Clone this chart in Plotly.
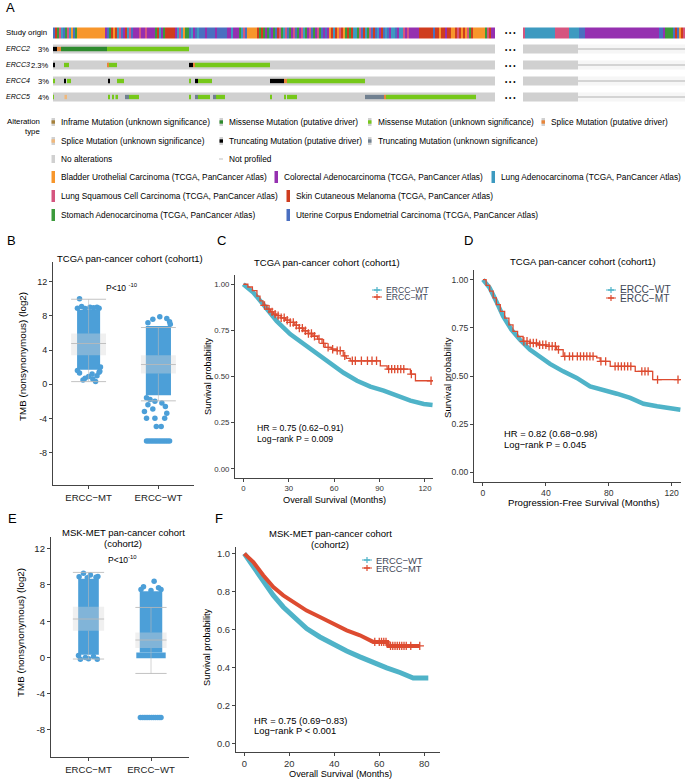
import plotly.graph_objects as go

W, H = 685, 779
FONT = "Liberation Sans, Arial, sans-serif"

# ======================= DATA =======================
# ---- Panel A : oncoprint ----
CANCER_LABELS = {
    "O": "Bladder Urothelial Carcinoma (TCGA, PanCancer Atlas)",
    "C": "Colorectal Adenocarcinoma (TCGA, PanCancer Atlas)",
    "A": "Lung Adenocarcinoma (TCGA, PanCancer Atlas)",
    "S": "Lung Squamous Cell Carcinoma (TCGA, PanCancer Atlas)",
    "M": "Skin Cutaneous Melanoma (TCGA, PanCancer Atlas)",
    "G": "Stomach Adenocarcinoma (TCGA, PanCancer Atlas)",
    "U": "Uterine Corpus Endometrial Carcinoma (TCGA, PanCancer Atlas)",
}
# study origin per group of 2 samples (main block, then block after the break)
STUDY_MAIN = ("UMGSAUGSAOUG" "OOOOOOOOOOOOOO" "CUGMO" "MASUCMASUC" "CCSCCSCCCC"
              "GMACG" "MMMMM" "CASAOGG" "UACUA" "UUUCUUUUCUUUUU" "CCACCC"
              "GASUOOOOO" "MGMG" "CGUCG" "UMSGA" "SUGCSUGCS" "AGCSUGCS" "GUCUC"
              "OMAMOSM" "OGMGMA" "AGSUMAGSU" "MUACMU" "AUCAAUCAA" "SCS" "CCCCC"
              "MMMMMMM" "U" "MMOMMCMMO" "OMSMO" "MOSGMO" "OOOOO" "GSMCC")
STUDY_RIGHT = ("S" "AAAAAAAAAAAAAAA" "SSSSSSS" "AAAAA" "UUU"
               "CCCCCCCCCCCCCCCCCCCCCCCCCCCCCCCCCCCCC" "UU" "CG" "GGG" "UMU" "OMS")
SAMPLES_PER_CELL = 2
RIGHT_PROFILED = 55          # samples profiled in the block after the break

GENES = ["ERCC2", "ERCC3", "ERCC4", "ERCC5"]
GENE_PCT = ["3%", "2.3%", "3%", "4%"]
MUT_LABELS = {
    "IU": "Inframe Mutation (unknown significance)",
    "MD": "Missense Mutation (putative driver)",
    "MU": "Missense Mutation (unknown significance)",
    "SD": "Splice Mutation (putative driver)",
    "SU": "Splice Mutation (unknown significance)",
    "TD": "Truncating Mutation (putative driver)",
    "TU": "Truncating Mutation (unknown significance)",
}
# (first sample, last sample, alteration type)
MUTATIONS = {
    "ERCC2": [(0, 4, "TD"), (4, 8, "SD"), (8, 54, "MD"), (54, 136, "MU")],
    "ERCC3": [(0, 1.5, "TD"), (11, 16, "MU"), (54, 55.5, "SD"), (55.5, 64, "MU"),
              (136, 140, "TD"), (140, 142, "SD"), (142, 217, "MU")],
    "ERCC4": [(0.5, 1.5, "MU"), (11, 13, "TD"), (14, 18, "MU"), (55, 57, "TD"),
              (64, 71, "MU"), (136, 138, "MU"), (142, 145, "TD"), (145, 159, "MU"),
              (217, 231, "TD"), (231, 234, "SD"), (234, 312, "MU")],
    "ERCC5": [(0, 1, "MU"), (11.5, 14, "SU"), (55, 56.5, "MU"), (59, 60.5, "MU"),
              (62.5, 65, "MU"), (72, 76, "TU"), (76, 86, "MU"), (136, 138, "MU"),
              (142, 145, "TU"), (145, 157, "MU"), (160, 163, "TU"), (163, 172, "MU"),
              (217, 219, "MU"), (231, 233, "MU"), (234, 244, "MU"), (312, 331, "TU"),
              (331, 333, "SD"), (333, 423, "MU")],
}

# ---- Panels B / E : TMB strip plots ----
GROUPS = ["ERCC−MT", "ERCC−WT"]
B_CORE_LO = [1.7, -1.3]
B_CORE_HI = [8.7, 6.8]
B_MT_VALS = [10.0, 9.1, 9.0, 9.0, 8.9, 8.9, 8.95, 8.85, 0.3, 0.7, 0.9, 1.0, 1.3, 1.4, 1.2, 0.6, 0.5, 1.6, 1.5, 2.0]
B_MT_JIT = [-0.13, -0.10, 0.02, 0.12, 0.15, -0.16, 0.07, -0.05, 0.1, -0.05, 0.0, 0.12, -0.13, 0.15, 0.05, 0.06, -0.08, -0.16, 0.16, 0.17]
B_WT_VALS = [7.9, 7.7, 7.6, 7.3, 7.2, 7.0, -1.6, -1.8, -2.0, -2.2, -2.4, -2.6, -2.9, -3.2, -3.4, -4.0, -4.0, -4.0, -4.95, -4.95,
             -6.64, -6.64, -6.64, -6.64, -6.64, -6.64, -6.64, -6.64, -6.64, -6.64, -6.64, -6.64]
B_WT_JIT = [0.02, 0.12, -0.08, 0.16, -0.15, 0.17, -0.17, -0.12, -0.05, 0.05, -0.15, 0.1, -0.08, -0.2, 0.12, -0.17, -0.05, 0.09, -0.03, 0.04,
            -0.17, -0.14, -0.11, -0.08, -0.05, -0.02, 0.01, 0.04, 0.07, 0.10, 0.13, 0.16]
B_Q1 = [3.4, 1.25]
B_MED = [4.76, 2.3]
B_Q3 = [5.93, 3.39]
B_LOW = [0.3, -1.95]
B_UP = [9.94, 6.63]

E_CORE_LO = [0.3, 0.55]
E_CORE_HI = [8.7, 7.3]
E_WT_BASE_LO = -0.1     # wide dense cluster of WT samples near zero
E_WT_BASE_HI = 0.55
E_MT_VALS = [9.3, 9.1, 8.95, 8.9, 8.85, -0.2, -0.15, -0.2, 0.0, 0.1, 0.2, 8.8]
E_MT_JIT = [-0.08, 0.03, 0.15, -0.15, 0.12, -0.13, 0.0, 0.14, -0.05, 0.08, -0.16, -0.02]
E_WT_VALS = [8.4, 7.8, 7.7, 7.5, 7.5, 7.4,
             -6.64, -6.64, -6.64, -6.64, -6.64, -6.64, -6.64, -6.64, -6.64, -6.64, -6.64, -6.64]
E_WT_JIT = [0.05, -0.12, 0.12, 0.16, -0.16, 0.0,
            -0.17, -0.14, -0.11, -0.08, -0.05, -0.02, 0.01, 0.04, 0.07, 0.10, 0.13, 0.16]
E_Q1 = [2.95, 1.04]
E_MED = [4.24, 1.92]
E_Q3 = [5.6, 2.76]
E_LOW = [-0.18, -1.77]
E_UP = [9.39, 5.52]

# ---- Panels C / D / F : Kaplan-Meier curves ----
C_WT_T = [0, 6.6, 13.2, 22.1, 30.9, 39.9, 48.6, 57.4, 66.2, 75.1, 83.9, 92.7, 101.6, 110.4, 119.2, 125]
C_WT_S = [1.0, 0.955, 0.89, 0.80, 0.73, 0.676, 0.62, 0.567, 0.52, 0.477, 0.445, 0.423, 0.396, 0.369, 0.351, 0.346]
C_MT_T = [0, 3, 6, 9, 11, 13, 15.5, 18, 20, 22, 25, 28, 31, 34, 37, 40, 43, 46, 49, 52, 54, 58, 62, 66, 68, 70.6, 90.5, 95, 110.4, 113.7, 125]
C_MT_S = [1.0, 0.985, 0.965, 0.935, 0.91, 0.885, 0.865, 0.85, 0.838, 0.83, 0.818, 0.805, 0.793, 0.778, 0.762, 0.748, 0.733, 0.718, 0.703, 0.68, 0.658, 0.648, 0.64, 0.612, 0.598, 0.585, 0.558, 0.54, 0.513, 0.477, 0.477]
C_MT_CENSOR = [14, 17, 19, 21, 23, 25, 27, 29, 31, 33, 35, 37, 39, 41, 43, 45, 47, 50, 53, 56, 59, 62, 64, 67, 72, 74, 78, 82, 85, 88, 96, 98, 100, 102, 104, 106, 111, 124]

D_WT_T = [0, 4.3, 8.5, 12.8, 18.1, 23.4, 29.8, 36.2, 42.6, 51, 59.6, 68.1, 76.6, 85.1, 93.6, 102.1, 110.7, 121.2, 125.5]
D_WT_S = [1.0, 0.957, 0.887, 0.81, 0.74, 0.689, 0.637, 0.597, 0.563, 0.524, 0.49, 0.446, 0.429, 0.408, 0.386, 0.356, 0.343, 0.334, 0.325]
D_MT_T = [0, 2, 4.3, 6.5, 8.5, 11, 13.8, 16.5, 19.1, 22, 25.5, 29.8, 35, 40.4, 46.8, 51, 72.3, 74.5, 80.9, 96.8, 107.9, 125.5]
D_MT_S = [1.0, 0.97, 0.94, 0.905, 0.87, 0.835, 0.80, 0.765, 0.732, 0.705, 0.68, 0.671, 0.662, 0.654, 0.637, 0.602, 0.594, 0.576, 0.55, 0.524, 0.481, 0.481]
D_MT_CENSOR = [26, 28, 30, 32, 34, 36, 38, 40, 42, 44, 46, 48, 52, 55, 57, 60, 62, 64, 66, 68, 70, 75, 78, 84, 86, 88, 90, 92, 94, 101, 103, 105, 111, 124]

F_WT_T = [0, 4, 8.4, 12.9, 17.3, 21.8, 27.7, 33.6, 39.6, 45.5, 51.4, 57.3, 63.3, 69.2, 72.2, 75.1, 81.8]
F_WT_S = [1.0, 0.929, 0.85, 0.78, 0.719, 0.666, 0.605, 0.561, 0.523, 0.487, 0.456, 0.424, 0.398, 0.374, 0.356, 0.345, 0.345]
F_MT_T = [0, 4, 8.4, 12.9, 17.3, 21.8, 27.7, 33.6, 39.6, 45.5, 51.4, 57.3, 63.6, 64, 78]
F_MT_S = [1.0, 0.956, 0.886, 0.824, 0.78, 0.745, 0.70, 0.666, 0.632, 0.596, 0.57, 0.535, 0.535, 0.514, 0.514]
F_MT_CENSOR = [58, 60, 61, 62, 63, 65, 66, 67, 68, 69, 70, 71, 72, 74, 78]

KM_GROUPS = ["ERCC−WT", "ERCC−MT"]
C_STATS = ["HR = 0.75 (0.62−0.91)", "Log−rank P = 0.009"]
D_STATS = ["HR = 0.82 (0.68−0.98)", "Log−rank P = 0.045"]
F_STATS = ["HR = 0.75 (0.69−0.83)", "Log−rank P < 0.001"]

# ======================= STYLE =======================
CANCER_COLORS = {"O": "#F7962B", "C": "#9530B0", "A": "#3D9AC0", "S": "#D5557F",
                 "M": "#CF3C1F", "G": "#3B9A3B", "U": "#4A6FC0"}
MUT_COLORS = {"IU": "#A6813A", "MD": "#2E8B2E", "MU": "#76C81A", "SD": "#E8863A",
              "SU": "#F0B87B", "TD": "#000000", "TU": "#708090"}
NOALT = "#D0D0D0"
BLUE = "#4C9FD8"
TEAL = "#4FB3C8"
RED = "#DD4B30"
LEG_FS = 8.3

fig = go.Figure()


def xd(l, r):
    return [l / W, r / W]


def yd(t, b):
    return [1 - b / H, 1 - t / H]


def px(x, y):
    return x / W, 1 - y / H


annotations = []
shapes = []


def text(x, y, s, size, anchor="left", color="#000", italic=False, angle=0, valign="middle"):
    X, Y = px(x, y)
    annotations.append(dict(x=X, y=Y, xref="paper", yref="paper", text=s, showarrow=False,
                            xanchor=anchor, yanchor=valign, textangle=angle,
                            font=dict(family=FONT, size=size, color=color,
                                      style="italic" if italic else "normal")))


def rect(x0, y0, x1, y1, color):
    X0, Y0 = px(x0, y0)
    X1, Y1 = px(x1, y1)
    shapes.append(dict(type="rect", xref="paper", yref="paper", x0=X0, y0=Y1, x1=X1, y1=Y0,
                       fillcolor=color, line=dict(width=0), layer="above"))


def seg(x0, y0, x1, y1, color, width=1):
    X0, Y0 = px(x0, y0)
    X1, Y1 = px(x1, y1)
    shapes.append(dict(type="line", xref="paper", yref="paper", x0=X0, y0=Y0, x1=X1, y1=Y1,
                       line=dict(color=color, width=width), layer="above"))


# ---------------- Panel A ----------------
def origin_trace(codes, xa, ya):
    n = len(codes)
    fig.add_trace(go.Bar(orientation="h", y=[0] * n, x=[SAMPLES_PER_CELL] * n,
                         base=[i * SAMPLES_PER_CELL for i in range(n)], width=0.7,
                         marker=dict(color=[CANCER_COLORS[c] for c in codes], line=dict(width=0)),
                         xaxis=xa, yaxis=ya, showlegend=False, hoverinfo="skip"))


N_MAIN = len(STUDY_MAIN) * SAMPLES_PER_CELL
N_RIGHT = len(STUDY_RIGHT) * SAMPLES_PER_CELL
rows = list(range(1, len(GENES) + 1))

origin_trace(STUDY_MAIN, "x", "y")
fig.add_trace(go.Bar(orientation="h", y=rows, x=[N_MAIN] * len(GENES), base=[0] * len(GENES), width=0.55,
                     marker=dict(color=NOALT, line=dict(width=0)), xaxis="x", yaxis="y",
                     showlegend=False, hoverinfo="skip"))
for code in MUT_LABELS:
    ys, xs, bs = [], [], []
    for gi, g in enumerate(GENES):
        for (a, b, c) in MUTATIONS[g]:
            if c == code:
                ys.append(gi + 1)
                bs.append(a)
                xs.append(b - a)
    if ys:
        fig.add_trace(go.Bar(orientation="h", y=ys, x=xs, base=bs, width=0.27,
                             marker=dict(color=MUT_COLORS[code], line=dict(width=0)),
                             xaxis="x", yaxis="y", showlegend=False, hoverinfo="skip"))

origin_trace(STUDY_RIGHT, "x2", "y2")
fig.add_trace(go.Bar(orientation="h", y=rows, x=[RIGHT_PROFILED] * len(GENES), base=[0] * len(GENES),
                     width=0.55, marker=dict(color=NOALT, line=dict(width=0)), xaxis="x2", yaxis="y2",
                     showlegend=False, hoverinfo="skip"))
fig.add_trace(go.Bar(orientation="h", y=rows, x=[N_RIGHT - RIGHT_PROFILED] * len(GENES),
                     base=[RIGHT_PROFILED] * len(GENES), width=0.55,
                     marker=dict(color="#F6F6F6", line=dict(width=0)), xaxis="x2", yaxis="y2",
                     showlegend=False, hoverinfo="skip"))
fig.add_trace(go.Bar(orientation="h", y=rows, x=[N_RIGHT - RIGHT_PROFILED] * len(GENES),
                     base=[RIGHT_PROFILED] * len(GENES), width=0.12,
                     marker=dict(color="#D4D4D4", line=dict(width=0)), xaxis="x2", yaxis="y2",
                     showlegend=False, hoverinfo="skip"))

# row labels
row_y = [33, 49, 65, 81, 97]
text(4, row_y[0], "Study origin", 7.8)
for i, g in enumerate(GENES):
    text(4, row_y[i + 1], g, 7.1, italic=True)
    text(51, row_y[i + 1], GENE_PCT[i], 7.6, anchor="right")
for yv in row_y:
    text(510, yv, "• • •", 6.5, anchor="center")

# legend of panel A
text(42, 121, "Alteration", 7.8, anchor="right")
text(42, 131.5, "type", 7.8, anchor="right")
mut_pos = [("IU", 59, 122), ("MD", 227, 122), ("MU", 375.5, 122), ("SD", 549, 122),
           ("SU", 59, 141), ("TD", 227, 141), ("TU", 375.5, 141)]
for code, tx, ty in mut_pos:
    rect(tx - 7.5, ty - 4, tx - 4, ty + 4, NOALT)
    rect(tx - 7.5, ty - 1.7, tx - 4, ty + 1.7, MUT_COLORS[code])
    text(tx, ty, MUT_LABELS[code], LEG_FS)
rect(51.5, 155, 55, 163, NOALT)
text(59, 159, "No alterations", LEG_FS)
seg(219, 159, 223, 159, "#D4D4D4", 1.5)
text(227, 159, "Not profiled", LEG_FS)
canc_pos = [("O", 59, 177), ("C", 282, 177), ("A", 499, 177),
            ("S", 59, 196), ("M", 294, 196), ("G", 59, 215), ("U", 294, 215)]
for code, tx, ty in canc_pos:
    rect(tx - 7.5, ty - 6, tx - 4, ty + 6, CANCER_COLORS[code])
    text(tx, ty, CANCER_LABELS[code], LEG_FS)


# ---------------- Panels B / E ----------------
def strip_panel(xa, ya, lo, hi, mt_v, mt_j, wt_v, wt_j, q1, med, q3, low, up, extra=None):
    fig.add_trace(go.Bar(x=[0, 1], y=[hi[0] - lo[0], hi[1] - lo[1]], base=lo, width=[0.33, 0.36],
                         marker=dict(color=BLUE, line=dict(width=0)), xaxis=xa, yaxis=ya,
                         showlegend=False, hoverinfo="skip"))
    if extra is not None:
        fig.add_trace(go.Bar(x=[1], y=[extra[1] - extra[0]], base=[extra[0]], width=[0.47],
                             marker=dict(color=BLUE, line=dict(width=0)), xaxis=xa, yaxis=ya,
                             showlegend=False, hoverinfo="skip"))
    fig.add_trace(go.Scatter(x=[0 + j for j in mt_j] + [1 + j for j in wt_j], y=mt_v + wt_v,
                             mode="markers", marker=dict(color=BLUE, size=5.5, line=dict(width=0)),
                             xaxis=xa, yaxis=ya, showlegend=False, hoverinfo="skip"))
    # box-and-whisker drawn in data coordinates of this panel
    hw = 0.25
    for i in range(2):
        shapes.append(dict(type="rect", xref=xa, yref=ya, x0=i - hw, x1=i + hw, y0=q1[i], y1=q3[i],
                           fillcolor="rgba(215,215,215,0.38)", line=dict(width=0), layer="above"))
        for yy in (med[i], low[i], up[i]):
            shapes.append(dict(type="line", xref=xa, yref=ya, x0=i - hw, x1=i + hw, y0=yy, y1=yy,
                               line=dict(color="rgba(185,185,185,0.85)", width=1), layer="above"))
        for (a, b) in ((q3[i], up[i]), (low[i], q1[i])):
            shapes.append(dict(type="line", xref=xa, yref=ya, x0=i, x1=i, y0=a, y1=b,
                               line=dict(color="rgba(185,185,185,0.6)", width=1), layer="above"))


strip_panel("x3", "y3", B_CORE_LO, B_CORE_HI, B_MT_VALS, B_MT_JIT, B_WT_VALS, B_WT_JIT,
            B_Q1, B_MED, B_Q3, B_LOW, B_UP)
strip_panel("x6", "y6", E_CORE_LO, E_CORE_HI, E_MT_VALS, E_MT_JIT, E_WT_VALS, E_WT_JIT,
            E_Q1, E_MED, E_Q3, E_LOW, E_UP, extra=(E_WT_BASE_LO, E_WT_BASE_HI))


# ---------------- KM panels ----------------
def step_value(ts, ss, t):
    v = ss[0]
    for ti, si in zip(ts, ss):
        if ti <= t:
            v = si
    return v


def km_panel(xa, ya, wt_t, wt_s, mt_t, mt_s, cens, wt_width, mt_width, mt_shape):
    fig.add_trace(go.Scatter(x=wt_t, y=wt_s, mode="lines", line=dict(color=TEAL, width=wt_width),
                             xaxis=xa, yaxis=ya, showlegend=False, hoverinfo="skip"))
    fig.add_trace(go.Scatter(x=mt_t, y=mt_s, mode="lines", line=dict(color=RED, width=mt_width, shape=mt_shape),
                             xaxis=xa, yaxis=ya, showlegend=False, hoverinfo="skip"))
    fig.add_trace(go.Scatter(x=cens, y=[step_value(mt_t, mt_s, t) for t in cens], mode="markers",
                             marker=dict(symbol="cross-thin", size=6, line=dict(color=RED, width=1.3)),
                             xaxis=xa, yaxis=ya, showlegend=False, hoverinfo="skip"))


km_panel("x4", "y4", C_WT_T, C_WT_S, C_MT_T, C_MT_S, C_MT_CENSOR, 4.5, 1.3, "hv")
km_panel("x5", "y5", D_WT_T, D_WT_S, D_MT_T, D_MT_S, D_MT_CENSOR, 4.5, 1.3, "hv")
km_panel("x7", "y7", F_WT_T, F_WT_S, F_MT_T, F_MT_S, F_MT_CENSOR, 5, 4, "linear")


def km_legend(x, y1, y2, size):
    for yy, col, name in [(y1, TEAL, KM_GROUPS[0]), (y2, RED, KM_GROUPS[1])]:
        seg(x - 5, yy, x + 5, yy, col, 1)
        seg(x, yy - 3, x, yy + 3, col, 1.2)
        seg(x - 3, yy, x + 3, yy, col, 1.4)
        text(x + 7, yy, name, size, color="#3E4656")


km_legend(377, 290, 297, 8.6)
km_legend(611, 290, 298, 10.2)
km_legend(367, 560, 568, 9.4)
text(255, 428, C_STATS[0], 8.7)
text(255, 438.5, C_STATS[1], 8.7)
text(502, 433, D_STATS[0], 9.4)
text(502, 444, D_STATS[1], 9.4)
text(252, 720.5, F_STATS[0], 9.4)
text(252, 730.5, F_STATS[1], 9.4)

# ---------------- titles / labels ----------------
for lab, x, y in [("A", 4, 8), ("B", 5, 240), ("C", 215, 240), ("D", 462, 240), ("E", 6, 518), ("F", 213, 518)]:
    text(x, y, lab, 13)
text(130, 258, "TCGA pan-cancer cohort (cohort1)", 9.5, anchor="center")
text(327, 262, "TCGA pan-cancer cohort (cohort1)", 9.5, anchor="center")
text(583, 261, "TCGA pan-cancer cohort (cohort1)", 9.5, anchor="center")
text(123, 532, "MSK-MET pan-cancer cohort", 9.5, anchor="center")
text(123, 543, "(cohort2)", 9.5, anchor="center")
text(330, 533, "MSK-MET pan-cancer cohort", 9.5, anchor="center")
text(330, 544, "(cohort2)", 9.5, anchor="center")
text(122, 287, "P<10 <sup>-10</sup>", 8.5, anchor="center")
text(122, 559, "P<10<sup>-10</sup>", 8.5, anchor="center")
text(22, 357, "TMB (nonsynonymous) (log2)", 9.8, anchor="center", angle=-90)
text(20, 633, "TMB (nonsynonymous) (log2)", 9.8, anchor="center", angle=-90)
text(208, 376, "Survival probability", 9.2, anchor="center", angle=-90)
text(447, 377, "Survival probability", 9.6, anchor="center", angle=-90)
text(207, 647, "Survival probability", 9.2, anchor="center", angle=-90)
text(334, 499.5, "Overall Survival (Months)", 9.2, anchor="center")
text(583, 502.5, "Progression-Free Survival (Months)", 9.6, anchor="center")
text(340, 774, "Overall Survival (Months)", 9.2, anchor="center")

# ---------------- axes ----------------
hidden = dict(visible=False, showgrid=False, zeroline=False, fixedrange=True)
ax_line = dict(showline=True, linecolor="#444", linewidth=1.1, ticks="outside", ticklen=3,
               tickcolor="#444", showgrid=False, zeroline=False, mirror=False)

layout = dict(
    width=W, height=H, margin=dict(l=0, r=0, t=0, b=0), paper_bgcolor="white", plot_bgcolor="white",
    barmode="overlay", showlegend=False, font=dict(family=FONT, color="#000"),
    xaxis=dict(hidden, domain=xd(53, 495), range=[0, N_MAIN], anchor="y"),
    yaxis=dict(hidden, domain=yd(25, 105), range=[4.5, -0.5], anchor="x"),
    xaxis2=dict(hidden, domain=xd(523, 685), range=[0, N_RIGHT], anchor="y2"),
    yaxis2=dict(hidden, domain=yd(25, 105), range=[4.5, -0.5], anchor="x2"),
    xaxis3=dict(ax_line, domain=xd(53, 194), range=[-0.51, 1.51], anchor="y3", tickvals=[0, 1],
                ticktext=GROUPS, tickfont=dict(size=9.6, color="#222")),
    yaxis3=dict(ax_line, domain=yd(262, 485), range=[-11.8, 14.3], anchor="x3",
                tickvals=[12, 8, 4, 0, -4, -8], ticktext=["12", "8", "4", "0", "-4", "-8"],
                tickfont=dict(size=9, color="#222")),
    xaxis6=dict(ax_line, domain=xd(51, 188.5), range=[-0.6, 1.6], anchor="y6", tickvals=[0, 1],
                ticktext=GROUPS, tickfont=dict(size=9.6, color="#222")),
    yaxis6=dict(ax_line, domain=yd(537, 757), range=[-11.0, 13.3], anchor="x6",
                tickvals=[12, 8, 4, 0, -4, -8], ticktext=["12", "8", "4", "0", "-4", "-8"],
                tickfont=dict(size=9.6, color="#222")),
    xaxis4=dict(ax_line, domain=xd(235, 433), range=[-5.5, 125.3], anchor="y4",
                tickvals=[0, 30, 60, 90, 120], tickfont=dict(size=7.8, color="#333")),
    yaxis4=dict(ax_line, domain=yd(275, 478), range=[-0.05, 1.05], anchor="x4",
                tickvals=[0, 0.25, 0.5, 0.75, 1], tickformat=".2f", tickfont=dict(size=7.8, color="#333")),
    xaxis5=dict(ax_line, domain=xd(474, 681), range=[-5.7, 125.9], anchor="y5",
                tickvals=[0, 40, 80, 120], tickfont=dict(size=8.6, color="#333")),
    yaxis5=dict(ax_line, domain=yd(270, 482), range=[-0.05, 1.05], anchor="x5",
                tickvals=[0, 0.25, 0.5, 0.75, 1], tickformat=".2f", tickfont=dict(size=8.6, color="#333")),
    xaxis7=dict(ax_line, domain=xd(236, 440), range=[-3.7, 87], anchor="y7",
                tickvals=[0, 20, 40, 60, 80], tickfont=dict(size=9.4, color="#333")),
    yaxis7=dict(ax_line, domain=yd(547, 752), range=[-0.045, 1.035], anchor="x7",
                tickvals=[0, 0.2, 0.4, 0.6, 0.8, 1], tickformat=".1f", tickfont=dict(size=9.4, color="#333")),
    annotations=annotations, shapes=shapes,
)
fig.update_layout(**layout)
fig.write_html("out.html", config={"displayModeBar": False},
               post_script="document.body.style.margin='0px';document.body.style.overflow='hidden';"
                           "document.documentElement.style.overflow='hidden';")
